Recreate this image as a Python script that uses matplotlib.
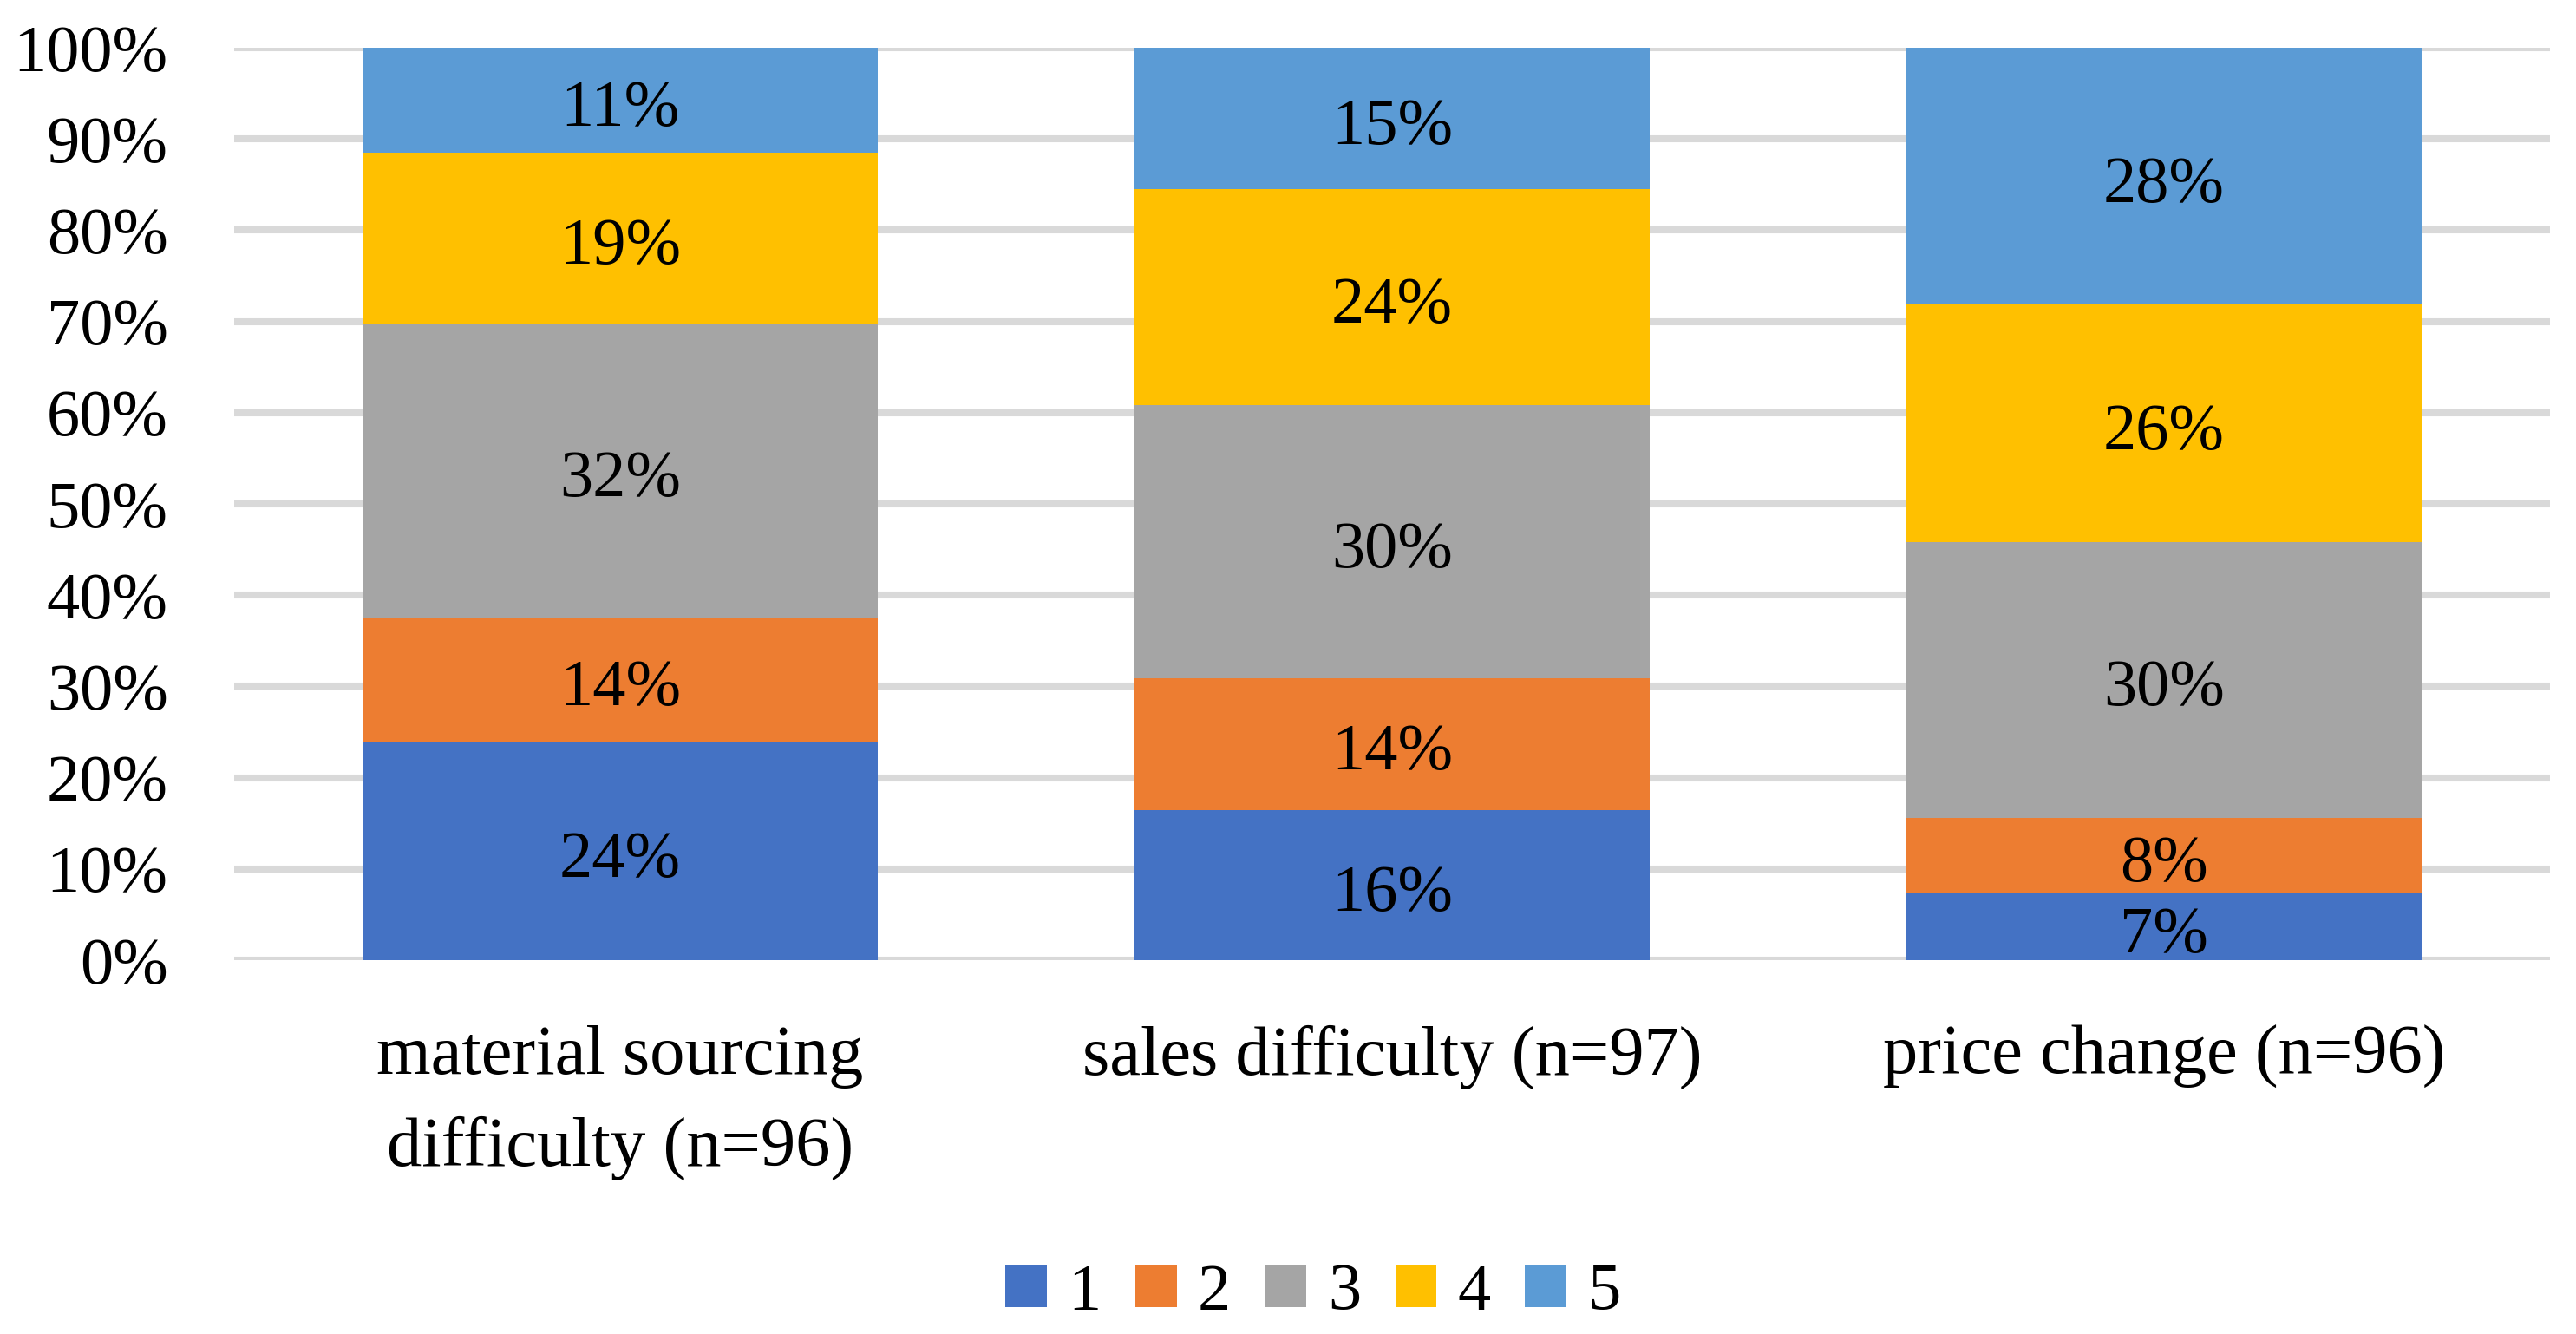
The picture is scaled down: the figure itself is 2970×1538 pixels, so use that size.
import matplotlib
matplotlib.use("Agg")
import matplotlib.pyplot as plt
from matplotlib.patches import Patch
import numpy as np

categories = ["material sourcing\ndifficulty (n=96)", "sales difficulty (n=97)", "price change (n=96)"]
series_names = ["1", "2", "3", "4", "5"]
# percentage shares per category (read from segment boundaries)
s1 = [23.96, 16.49, 7.29]
s2 = [13.54, 14.43, 8.33]
s3 = [32.29, 29.90, 30.21]
s4 = [18.75, 23.71, 26.04]
s5 = [11.46, 15.46, 28.13]
yticks = [0, 10, 20, 30, 40, 50, 60, 70, 80, 90, 100]
colors = ["#4472C4", "#ED7D31", "#A5A5A5", "#FFC000", "#5B9BD5"]

plt.rcParams['font.family'] = ['Liberation Serif', 'DejaVu Serif']
FS = 55

fig = plt.figure(figsize=(29.70, 15.38), dpi=100)
ax = fig.add_axes([0.0909, 0.2802, 0.8990, 0.6840])

x = np.arange(len(categories))
bottom = np.zeros(len(categories))
handles = []
for vals, name, c in zip([s1, s2, s3, s4, s5], series_names, colors):
    vals = np.array(vals)
    ax.bar(x, vals, width=0.668, bottom=bottom, color=c, zorder=2)
    for xi, b, v in zip(x, bottom, vals):
        ax.annotate(f"{v:.0f}%", (xi, b + v / 2), xytext=(0, -8), textcoords="offset points",
                    ha="center", va="center", fontsize=FS, zorder=3)
    bottom = bottom + vals
    handles.append(Patch(facecolor=c, label=name))

ax.set_xlim(-0.5, len(categories) - 0.5)
ax.set_ylim(0, 100)
ax.set_yticks(yticks)
ax.set_yticklabels([f"{t}%" for t in yticks], fontsize=FS)
ax.set_xticks(x)
ax.set_xticklabels(categories, fontsize=58, linespacing=1.55)
ax.tick_params(axis="y", length=0, pad=55)
ax.tick_params(axis="x", length=0, pad=54)
ax.yaxis.grid(True, color="#D9D9D9", linewidth=5.8, zorder=0)
ax.set_axisbelow(True)
for sp in ax.spines.values():
    sp.set_visible(False)

fig.legend(handles=handles, loc="center", bbox_to_anchor=(1514 / 2970, 1 - 1491 / 1538),
           ncol=5, frameon=False, fontsize=FS, handlelength=0.62, handleheight=0.62,
           handletextpad=0.32, columnspacing=0.52)

fig.savefig("out.png", dpi=100)
